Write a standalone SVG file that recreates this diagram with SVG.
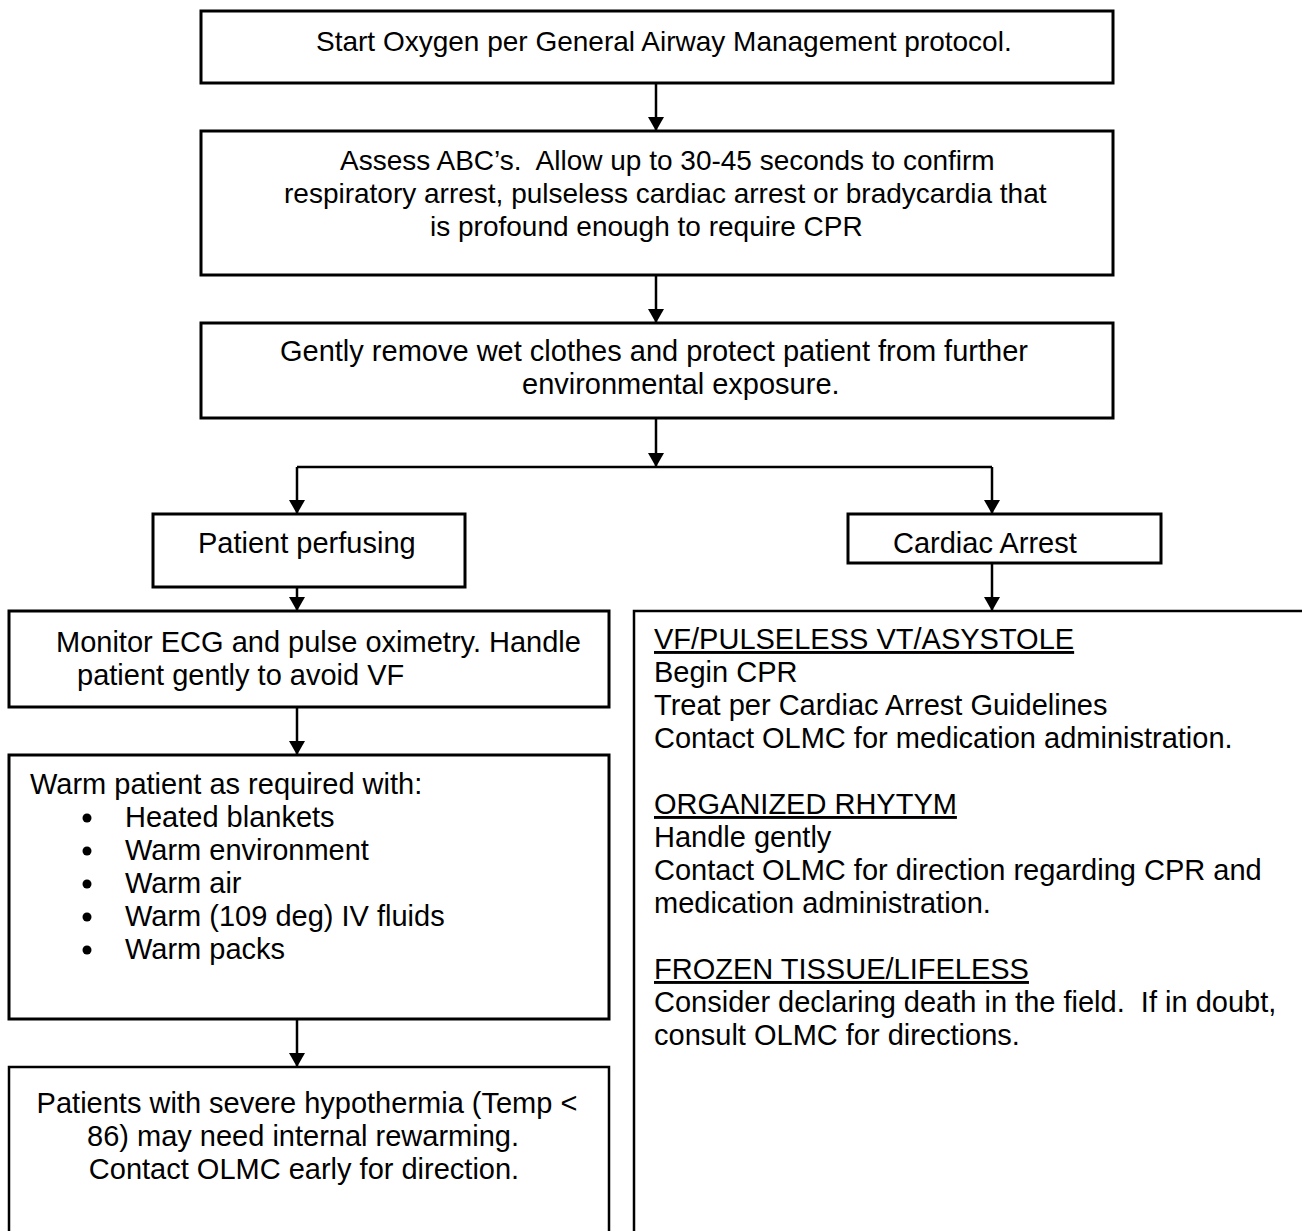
<svg xmlns="http://www.w3.org/2000/svg" width="1302" height="1231" viewBox="0 0 1302 1231">
<defs>
<marker id="ah" viewBox="0 0 14 16" refX="14" refY="8" markerWidth="14" markerHeight="16" markerUnits="userSpaceOnUse" orient="auto">
<path d="M0,0 L14,8 L0,16 Z" fill="#000"/>
</marker>
<style>
.box{fill:#fff;stroke:#000;stroke-width:3}
.ln{fill:none;stroke:#000;stroke-width:2.5}
.t{font-family:"Liberation Sans",Arial,sans-serif;font-size:29px;fill:#000}
.s{font-size:28px}
.u{text-decoration:underline}
</style>
</defs>
<rect width="1302" height="1231" fill="#fff"/>
<g id="connectors">
<line class="ln" x1="656" y1="83" x2="656" y2="131" marker-end="url(#ah)"/>
<line class="ln" x1="656" y1="275" x2="656" y2="323" marker-end="url(#ah)"/>
<line class="ln" x1="656" y1="418" x2="656" y2="467" marker-end="url(#ah)"/>
<polyline class="ln" points="297,467 992,467"/>
<line class="ln" x1="297" y1="467" x2="297" y2="514" marker-end="url(#ah)"/>
<line class="ln" x1="992" y1="467" x2="992" y2="514" marker-end="url(#ah)"/>
<line class="ln" x1="297" y1="587" x2="297" y2="611" marker-end="url(#ah)"/>
<line class="ln" x1="992" y1="563" x2="992" y2="611" marker-end="url(#ah)"/>
<line class="ln" x1="297" y1="707" x2="297" y2="755" marker-end="url(#ah)"/>
<line class="ln" x1="297" y1="1019" x2="297" y2="1067" marker-end="url(#ah)"/>
</g>
<g id="n1">
<rect class="box" x="201" y="11" width="912" height="72"/>
<text class="t s" x="316" y="51">Start Oxygen per General Airway Management protocol.</text>
</g>
<g id="n2">
<rect class="box" x="201" y="131" width="912" height="144"/>
<text class="t s" x="340" y="170" xml:space="preserve">Assess ABC’s.  Allow up to 30-45 seconds to confirm</text>
<text class="t s" x="284" y="203">respiratory arrest, pulseless cardiac arrest or bradycardia that</text>
<text class="t s" x="430" y="236">is profound enough to require CPR</text>
</g>
<g id="n3">
<rect class="box" x="201" y="323" width="912" height="95"/>
<text class="t" x="280" y="361">Gently remove wet clothes and protect patient from further</text>
<text class="t" x="522" y="394">environmental exposure.</text>
</g>
<g id="n4">
<rect class="box" x="153" y="514" width="312" height="73"/>
<text class="t" x="198" y="553">Patient perfusing</text>
</g>
<g id="n5">
<rect class="box" x="848" y="514" width="313" height="49"/>
<text class="t" x="893" y="553">Cardiac Arrest</text>
</g>
<g id="n6">
<rect class="box" x="9" y="611" width="600" height="96"/>
<text class="t" x="56" y="652">Monitor ECG and pulse oximetry. Handle</text>
<text class="t" x="77" y="685">patient gently to avoid VF</text>
</g>
<g id="n7">
<rect class="box" x="9" y="755" width="600" height="264"/>
<text class="t" x="30" y="794">Warm patient as required with:</text>
<circle cx="87" cy="818" r="4.5"/><text class="t" x="125" y="827">Heated blankets</text>
<circle cx="87" cy="851" r="4.5"/><text class="t" x="125" y="860">Warm environment</text>
<circle cx="87" cy="884" r="4.5"/><text class="t" x="125" y="893">Warm air</text>
<circle cx="87" cy="917" r="4.5"/><text class="t" x="125" y="926">Warm (109 deg) IV fluids</text>
<circle cx="87" cy="950" r="4.5"/><text class="t" x="125" y="959">Warm packs</text>
</g>
<g id="n8">
<path class="ln" d="M9,1240 V1067 H609 V1240" stroke-width="3"/>
<text class="t" x="307" y="1113" text-anchor="middle">Patients with severe hypothermia (Temp &lt;</text>
<text class="t" x="303" y="1146" text-anchor="middle">86) may need internal rewarming.</text>
<text class="t" x="304" y="1179" text-anchor="middle">Contact OLMC early for direction.</text>
</g>
<g id="n9">
<path class="ln" d="M634,1240 V611 H1310" stroke-width="3"/>
<text class="t u" x="654" y="649">VF/PULSELESS VT/ASYSTOLE</text>
<text class="t" x="654" y="682">Begin CPR</text>
<text class="t" x="654" y="715">Treat per Cardiac Arrest Guidelines</text>
<text class="t" x="654" y="748">Contact OLMC for medication administration.</text>
<text class="t u" x="654" y="814">ORGANIZED RHYTYM</text>
<text class="t" x="654" y="847">Handle gently</text>
<text class="t" x="654" y="880">Contact OLMC for direction regarding CPR and</text>
<text class="t" x="654" y="913">medication administration.</text>
<text class="t u" x="654" y="979">FROZEN TISSUE/LIFELESS</text>
<text class="t" x="654" y="1012" xml:space="preserve">Consider declaring death in the field.  If in doubt,</text>
<text class="t" x="654" y="1045">consult OLMC for directions.</text>
</g>
</svg>
